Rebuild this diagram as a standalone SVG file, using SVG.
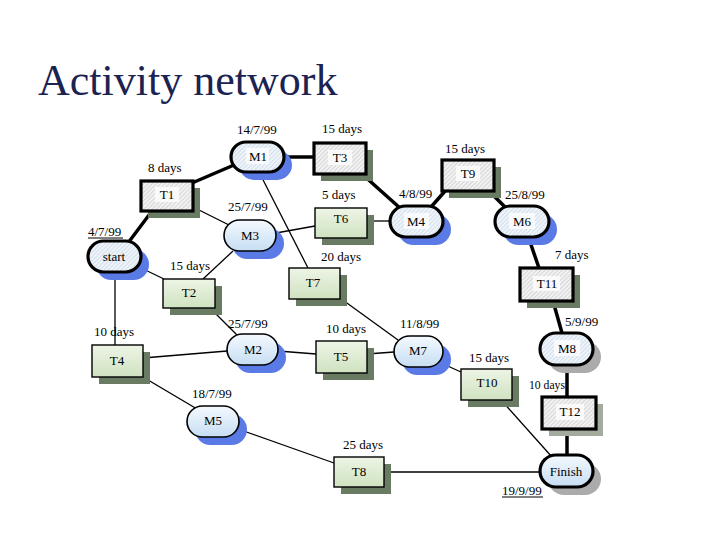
<svg xmlns="http://www.w3.org/2000/svg" width="717" height="538" viewBox="0 0 717 538">
<defs>
<pattern id="hatchGrey" width="3" height="3" patternUnits="userSpaceOnUse" patternTransform="rotate(45)">
<rect width="3" height="3" fill="#f2f2f2"/>
<line x1="0" y1="0" x2="0" y2="3" stroke="#c4c4c4" stroke-width="1.2"/>
</pattern>
<pattern id="hatchBlue" width="3" height="3" patternUnits="userSpaceOnUse" patternTransform="rotate(45)">
<rect width="3" height="3" fill="#eef4fa"/>
<line x1="0" y1="0" x2="0" y2="3" stroke="#c2d2e2" stroke-width="1.2"/>
</pattern>
<linearGradient id="greenGrad" x1="0" y1="0" x2="0" y2="1">
<stop offset="0" stop-color="#eef5e6"/>
<stop offset="1" stop-color="#cfe2c0"/>
</linearGradient>
<linearGradient id="blueGrad" x1="0" y1="0" x2="0" y2="1">
<stop offset="0" stop-color="#f4f9fe"/>
<stop offset="1" stop-color="#c6def3"/>
</linearGradient>
</defs>
<style>
text{font-family:"Liberation Serif","Times New Roman",serif;font-size:13px;fill:#000}
.title{font-size:44px;fill:#1b2352}
.nl{text-anchor:middle}
.crit-rect{fill:url(#hatchGrey);stroke:#000;stroke-width:3.2}
.rect{fill:url(#greenGrad);stroke:#000;stroke-width:1.4}
.crit-ms{fill:url(#hatchBlue);stroke:#000;stroke-width:3.2}
.ms{fill:url(#blueGrad);stroke:#000;stroke-width:1.6}
.sh-g{fill:#6a7b63}
.sh-lg{fill:#a3aa9e}
.sh-b{fill:#5a7ae6}
.sh-grey{fill:#ababab}
.inner{fill:#ffffff;opacity:0.75}
.thick{stroke:#000;stroke-width:3.5;fill:none}
.thin{stroke:#000;stroke-width:1.3;fill:none}
.ul{stroke:#000;stroke-width:1}
</style>
<rect width="717" height="538" fill="#ffffff"/>
<text class="title" x="38" y="95">Activity network</text>

<g id="connectors">
<line class="thick" x1="128" y1="243" x2="152" y2="211"/>
<line class="thick" x1="192" y1="183" x2="234" y2="165"/>
<line class="thick" x1="284" y1="157" x2="314" y2="157"/>
<line class="thick" x1="362" y1="174" x2="400" y2="208"/>
<line class="thick" x1="431" y1="207" x2="446" y2="190"/>
<line class="thick" x1="488" y1="190" x2="506" y2="208"/>
<line class="thick" x1="528" y1="236" x2="539" y2="268"/>
<line class="thick" x1="553" y1="301" x2="562" y2="333"/>
<line class="thick" x1="567" y1="365" x2="567" y2="397"/>
<line class="thick" x1="567" y1="429" x2="567" y2="455"/>
<line class="thin" x1="193" y1="207" x2="229" y2="225"/>
<line class="thin" x1="258" y1="170" x2="308" y2="268"/>
<line class="thin" x1="276" y1="233" x2="315" y2="226"/>
<line class="thin" x1="233" y1="251" x2="203" y2="279"/>
<line class="thin" x1="139" y1="267" x2="164" y2="279"/>
<line class="thin" x1="115" y1="272" x2="115" y2="345"/>
<line class="thin" x1="367" y1="221" x2="390" y2="221"/>
<line class="thin" x1="210" y1="308" x2="238" y2="336"/>
<line class="thin" x1="340" y1="298" x2="398" y2="340"/>
<line class="thin" x1="143" y1="358" x2="227" y2="351"/>
<line class="thin" x1="278" y1="351" x2="316" y2="354"/>
<line class="thin" x1="367" y1="354" x2="394" y2="352"/>
<line class="thin" x1="441" y1="363" x2="461" y2="372"/>
<line class="thin" x1="501" y1="400" x2="552" y2="457"/>
<line class="thin" x1="143" y1="377" x2="197" y2="409"/>
<line class="thin" x1="238" y1="429" x2="334" y2="463"/>
<line class="thin" x1="384" y1="472" x2="540" y2="472"/>
</g>

<g id="M1">
<rect class="sh-b" x="239" y="150" width="53" height="30" rx="15"/>
<rect class="crit-ms" x="231" y="142" width="53" height="30" rx="15"/>
<rect class="inner" x="246" y="148" width="23" height="16"/>
<text class="nl" x="258" y="161">M1</text>
</g>
<g id="T3">
<rect class="sh-g" x="321" y="150" width="52" height="31"/>
<rect class="crit-rect" x="314" y="143" width="52" height="31"/>
<rect class="inner" x="328" y="150" width="24" height="15"/>
<text class="nl" x="340" y="162">T3</text>
</g>
<g id="T1">
<rect class="sh-g" x="148" y="188" width="52" height="30"/>
<rect class="crit-rect" x="141" y="181" width="52" height="30"/>
<rect class="inner" x="155" y="187" width="24" height="15"/>
<text class="nl" x="167" y="199">T1</text>
</g>
<g id="M3">
<rect class="sh-b" x="232" y="228" width="52" height="31" rx="15.5"/>
<rect class="ms" x="224" y="220" width="52" height="31" rx="15.5"/>
<text class="nl" x="250" y="240">M3</text>
</g>
<g id="T6">
<rect class="sh-g" x="322" y="215" width="52" height="30"/>
<rect class="rect" x="315" y="208" width="52" height="30"/>
<text class="nl" x="341" y="223">T6</text>
</g>
<g id="M4">
<rect class="sh-b" x="398" y="214" width="53" height="31" rx="15.5"/>
<rect class="crit-ms" x="390" y="206" width="53" height="31" rx="15.5"/>
<rect class="inner" x="404" y="213" width="25" height="16"/>
<text class="nl" x="416" y="226">M4</text>
</g>
<g id="T9">
<rect class="sh-g" x="449" y="167" width="52" height="31"/>
<rect class="crit-rect" x="442" y="160" width="52" height="31"/>
<rect class="inner" x="456" y="166" width="24" height="15"/>
<text class="nl" x="468" y="178">T9</text>
</g>
<g id="M6">
<rect class="sh-b" x="503" y="214" width="54" height="31" rx="15.5"/>
<rect class="crit-ms" x="495" y="206" width="54" height="31" rx="15.5"/>
<rect class="inner" x="509" y="213" width="26" height="16"/>
<text class="nl" x="522" y="226">M6</text>
</g>
<g id="start">
<rect class="sh-b" x="96" y="249" width="53" height="31" rx="15.5"/>
<rect class="crit-ms" x="88" y="241" width="53" height="31" rx="15.5"/>
<text class="nl" x="114" y="261">start</text>
</g>
<g id="T2">
<rect class="sh-g" x="170" y="286" width="52" height="29"/>
<rect class="rect" x="163" y="279" width="52" height="29"/>
<text class="nl" x="189" y="297">T2</text>
</g>
<g id="T7">
<rect class="sh-g" x="296" y="275" width="51" height="31"/>
<rect class="rect" x="289" y="268" width="51" height="31"/>
<text class="nl" x="313" y="287">T7</text>
</g>
<g id="T11">
<rect class="sh-g" x="527" y="275" width="53" height="33"/>
<rect class="crit-rect" x="520" y="268" width="53" height="33"/>
<rect class="inner" x="533" y="276" width="27" height="15"/>
<text class="nl" x="547" y="288">T11</text>
</g>
<g id="M2">
<rect class="sh-b" x="235" y="342" width="51" height="31" rx="15.5"/>
<rect class="ms" x="227" y="334" width="51" height="31" rx="15.5"/>
<text class="nl" x="253" y="354">M2</text>
</g>
<g id="T5">
<rect class="sh-g" x="323" y="348" width="51" height="32"/>
<rect class="rect" x="316" y="341" width="51" height="32"/>
<text class="nl" x="341" y="361">T5</text>
</g>
<g id="M7">
<rect class="sh-b" x="402" y="344" width="49" height="31" rx="15.5"/>
<rect class="ms" x="394" y="336" width="49" height="31" rx="15.5"/>
<text class="nl" x="418" y="355">M7</text>
</g>
<g id="M8">
<rect class="sh-grey" x="548" y="341" width="53" height="32" rx="16"/>
<rect class="crit-ms" x="540" y="333" width="53" height="32" rx="16"/>
<rect class="inner" x="554" y="340" width="26" height="16"/>
<text class="nl" x="567" y="353">M8</text>
</g>
<g id="T4">
<rect class="sh-g" x="99" y="352" width="51" height="32"/>
<rect class="rect" x="92" y="345" width="51" height="32"/>
<text class="nl" x="117" y="365">T4</text>
</g>
<g id="T10">
<rect class="sh-g" x="468" y="376" width="51" height="31"/>
<rect class="rect" x="461" y="369" width="51" height="31"/>
<text class="nl" x="487" y="387">T10</text>
</g>
<g id="T12">
<rect class="sh-lg" x="549" y="404" width="54" height="32"/>
<rect class="crit-rect" x="542" y="397" width="54" height="32"/>
<rect class="inner" x="556" y="404" width="28" height="16"/>
<text class="nl" x="570" y="416">T12</text>
</g>
<g id="M5">
<rect class="sh-b" x="195" y="414" width="52" height="31" rx="15.5"/>
<rect class="ms" x="187" y="406" width="52" height="31" rx="15.5"/>
<text class="nl" x="213" y="425">M5</text>
</g>
<g id="T8">
<rect class="sh-g" x="341" y="464" width="50" height="30"/>
<rect class="rect" x="334" y="457" width="50" height="30"/>
<text class="nl" x="359" y="476">T8</text>
</g>
<g id="Finish">
<rect class="sh-grey" x="548" y="463" width="53" height="32" rx="16"/>
<rect class="crit-ms" x="540" y="455" width="53" height="32" rx="16" style="fill:url(#blueGrad)"/>
<text class="nl" x="566" y="476">Finish</text>
</g>

<g id="labels">
<text x="237" y="134">14/7/99</text>
<text x="322" y="133">15 days</text>
<text x="148" y="172">8 days</text>
<text x="445" y="153">15 days</text>
<text x="228" y="211">25/7/99</text>
<text x="322" y="199">5 days</text>
<text x="399" y="198">4/8/99</text>
<text x="505" y="199">25/8/99</text>
<text x="88" y="236">4/7/99</text>
<line class="ul" x1="88" y1="238" x2="123" y2="238"/>
<text x="170" y="270">15 days</text>
<text x="321" y="261">20 days</text>
<text x="555" y="259">7 days</text>
<text x="94" y="336">10 days</text>
<text x="228" y="328">25/7/99</text>
<text x="326" y="333">10 days</text>
<text x="400" y="328">11/8/99</text>
<text x="565" y="326">5/9/99</text>
<text x="469" y="362">15 days</text>
<text x="529" y="389" textLength="36" lengthAdjust="spacingAndGlyphs">10 days</text>
<text x="192" y="398">18/7/99</text>
<text x="343" y="449">25 days</text>
<text x="502" y="495">19/9/99</text>
<line class="ul" x1="502" y1="497" x2="543" y2="497"/>
</g>
</svg>
